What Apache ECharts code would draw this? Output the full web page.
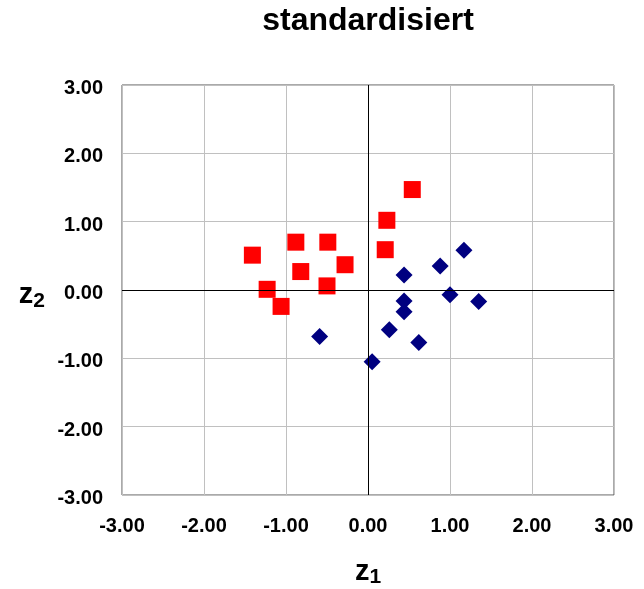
<!DOCTYPE html>
<html>
<head>
<meta charset="utf-8">
<script src="https://cdn.jsdelivr.net/npm/echarts@6/dist/echarts.min.js"></script>
<style>
  html, body { margin: 0; padding: 0; background: #fff; }
  #chart { width: 644px; height: 589px; }
</style>
</head>
<body>
<div id="chart"></div>
<script>
// group 1 (red squares)
const redX = [0.54, 0.23, 0.21, -0.88, -0.49, -1.41, -0.82, -0.28, -0.50, -1.23, -1.06];
const redY = [1.47, 1.02, 0.59, 0.70, 0.70, 0.51, 0.27, 0.37, 0.06, 0.01, -0.24];
// group 2 (blue diamonds)
const blueX = [1.17, 0.88, 0.44, 1.00, 1.35, 0.44, 0.44, 0.26, 0.62, -0.59, 0.05];
const blueY = [0.58, 0.35, 0.22, -0.07, -0.17, -0.16, -0.32, -0.58, -0.77, -0.68, -1.05];

const axisMin = -3, axisMax = 3, axisStep = 1;

function pairs(xs, ys) {
  return xs.map((x, i) => [x, ys[i]]);
}

let myChart = echarts.init(document.getElementById("chart")),
  option;

const fontFam = "Liberation Sans, Arial, sans-serif";
const labelFont = {
  fontFamily: fontFam,
  fontWeight: "bold",
  fontSize: 20,
  color: "#000"
};
const nameRich = {
  z: { fontFamily: fontFam, fontWeight: "bold", fontSize: 29, color: "#000" },
  s: { fontFamily: fontFam, fontWeight: "bold", fontSize: 21, color: "#000", padding: [12, 0, 0, 0] }
};

option = {
  animation: false,
  title: {
    text: "standardisiert",
    left: 363,
    top: 0,
    textAlign: "center",
    textStyle: {
      fontFamily: fontFam,
      fontWeight: "bold",
      fontSize: 32,
      color: "#000"
    }
  },
  grid: {
    left: 122,
    top: 85,
    right: 30,
    bottom: 94,
    outerBoundsMode: "none",
    containLabel: false,
    show: true,
    borderColor: "#555",
    borderWidth: 1
  },
  xAxis: {
    type: "value",
    min: axisMin,
    max: axisMax,
    interval: axisStep,
    name: "{z|z}{s|1}",
    nameLocation: "middle",
    nameGap: 60,
    nameTextStyle: { rich: nameRich },
    axisLine: { show: false },
    axisTick: { show: false },
    splitLine: { lineStyle: { color: "#c0c0c0", width: 1 } },
    axisLabel: Object.assign({ margin: 21, formatter: v => v.toFixed(2) }, labelFont)
  },
  yAxis: {
    type: "value",
    min: axisMin,
    max: axisMax,
    interval: axisStep,
    name: "{z|z}{s|2}",
    nameLocation: "middle",
    nameRotate: 0,
    nameGap: 77,
    nameTextStyle: { rich: nameRich, padding: [10, 0, 0, 0] },
    axisLine: { show: false },
    axisTick: { show: false },
    splitLine: { lineStyle: { color: "#c0c0c0", width: 1 } },
    axisLabel: {
      margin: 19,
      formatter: v => "{t|" + v.toFixed(2) + "}",
      rich: { t: Object.assign({ padding: [7, 0, 0, 0] }, labelFont) }
    }
  },
  series: [
    {
      type: "scatter",
      symbol: "rect",
      symbolSize: 17,
      itemStyle: { color: "#ff0000", opacity: 1 },
      data: pairs(redX, redY),
      z: 3,
      markLine: {
        silent: true,
        symbol: "none",
        label: { show: false },
        lineStyle: { color: "#000", width: 1, type: "solid", opacity: 1 },
        data: [{ xAxis: 0 }, { yAxis: 0 }]
      }
    },
    {
      type: "scatter",
      symbol: "diamond",
      symbolSize: 17,
      itemStyle: { color: "#000080", opacity: 1 },
      data: pairs(blueX, blueY),
      z: 3
    }
  ]
};

if (option && typeof option === "object") myChart.setOption(option);
</script>
</body>
</html>
